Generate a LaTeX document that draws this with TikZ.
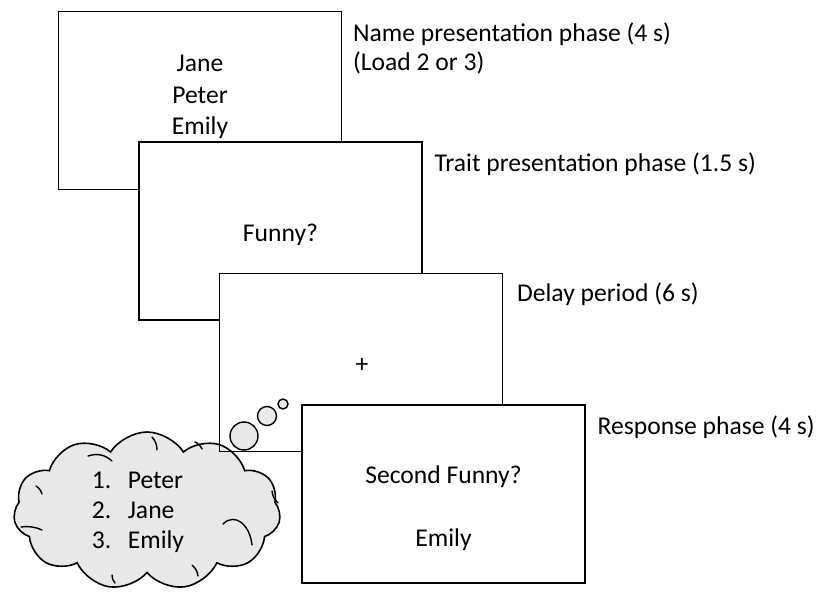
\documentclass[tikz,border=0pt]{standalone}
\usepackage{fontspec}
\setmainfont{Carlito}
\usetikzlibrary{shapes.symbols,positioning}

\tikzset{every picture/.style={line width=1.6pt}}
\tikzset{
  screen/.style={draw, fill=white, minimum width=283pt, minimum height=178pt, inner sep=0pt},
  phase/.style={anchor=base west, inner sep=0pt, align=left, font=\fontsize{25.6}{28.5}\selectfont},
  word/.style={align=center, inner sep=0pt, font=\fontsize{25.6}{31.5}\selectfont},
  bubble/.style={draw, circle, fill=gray!18, inner sep=0pt, line width=1.4pt},
  curl/.style={line width=1.4pt, line cap=round},
}

\begin{document}
\begin{tikzpicture}[x=1pt,y=-1pt]
		\useasboundingbox (0,0) rectangle (816,596);

		% the four screens, each one over the last
		\node[screen] (names) at (200,100.5) {};
		\node[word] (namelist) at (200,97) {Jane\\Peter\\Emily};
		\node[phase] (namelbl) at ([xshift=10pt,yshift=-59.5pt]names.north east) {Name presentation phase (4 s)\\(Load 2 or 3)};

		\node[screen] (trait) at (280.5,231) {};
		\node[word] (traitq) at (280.5,235) {Funny?};
		\node[phase] (traitlbl) at ([xshift=11pt,yshift=-30pt]trait.north east) {Trait presentation phase (1.5 s)};

		\node[screen] (delay) at (361,362.5) {};
		\node[word] (fix) at (362,365) {+};
		\node[phase] (delaylbl) at ([xshift=13pt,yshift=-29pt]delay.north east) {Delay period (6 s)};

		\node[screen] (resp) at (443.5,494) {};
		\node[word] (respq) at (443.5,508) {Second Funny?\\[31.5pt]Emily};
		\node[phase] (resplbl) at ([xshift=11pt,yshift=-30pt]resp.north east) {Response phase (4 s)};

		% thought cloud
		\begin{scope}[blend mode=multiply]
		\node[cloud, cloud puffs=11, cloud puff arc=115, aspect=1.7, draw, fill=gray!18, minimum width=267pt, minimum height=158pt] (thought) at (147,511) {};
		\node[bubble, minimum size=28pt] (bubA) at (244,436) {};
		\node[bubble, minimum size=19pt] (bubB) at (267,416) {};
		\node[bubble, minimum size=10pt] (bubC) at (283,404) {};
		\end{scope}
		%\draw [help lines] (0,400) grid[step=20pt] (300,596);
		\draw[curl] (88,456) to[bend left=30] (112,461);
		\draw[curl] (152,437) to[bend left=20] (157,450);
		\draw[curl] (195,442) to[bend left=20] (202,449);
		\draw[curl] (36,486) to[bend left=20] (42,494);
		\draw[curl] (21,527) to[bend left=15] (42,530);
		\draw[curl] (272,491) to[bend right=20] (278,503);
		\draw[curl] (223,524) .. controls (235,512) and (250,525) .. (252,545);
		\draw[curl] (192,565) to[bend left=20] (198,576);
		\draw[curl] (112,575) to[bend right=20] (115,583);
		\node[word, align=left, font=\fontsize{25.6}{30}\selectfont] (recall) at (138,512) {\makebox[36pt][l]{1.}Peter\\\makebox[36pt][l]{2.}Jane\\\makebox[36pt][l]{3.}Emily};
\end{tikzpicture}
\end{document}
